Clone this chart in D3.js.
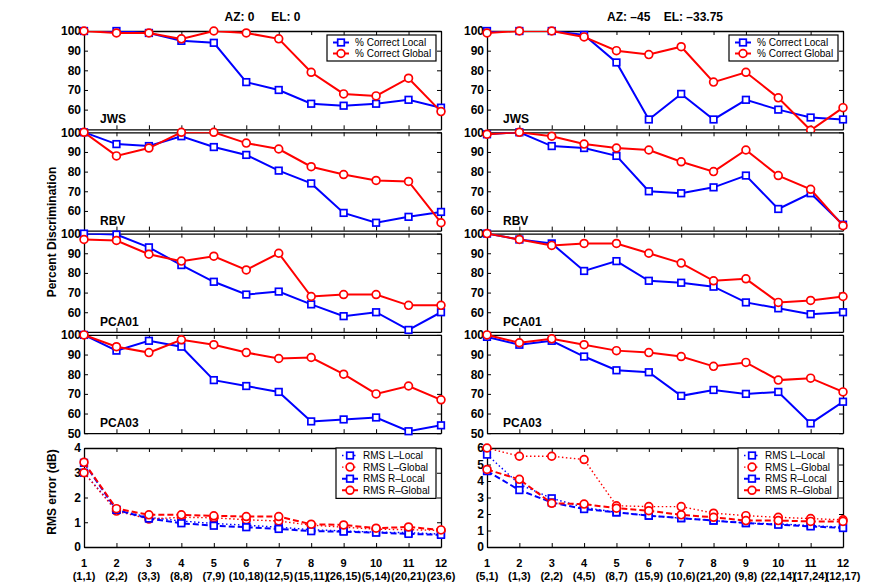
<!DOCTYPE html>
<html lang="en">
<head>
<meta charset="UTF-8">
<title>Percent discrimination and RMS error</title>
<script src="https://cdn.jsdelivr.net/npm/d3@7"></script>
<style>
  body { margin: 0; background: #fff; }
  text { font-family: "Liberation Sans", Arial, Helvetica, sans-serif; }
  .tick text { font-size: 12px; font-weight: bold; fill: #000; }
  .title { font-size: 12px; font-weight: bold; white-space: pre; }
  .legend text { font-size: 10px; }
</style>
</head>
<body>
<svg id="chart" width="896" height="584"></svg>
<script>
// x positions and the pair labels under them
const xVals = [1, 2, 3, 4, 5, 6, 7, 8, 9, 10, 11, 12];
const pairsA = ["(1,1)", "(2,2)", "(3,3)", "(8,8)", "(7,9)", "(10,18)", "(12,5)", "(15,11)", "(26,15)", "(5,14)", "(20,21)", "(23,6)"];
const pairsB = ["(5,1)", "(1,3)", "(2,2)", "(4,5)", "(8,7)", "(15,9)", "(10,6)", "(21,20)", "(9,8)", "(22,14)", "(17,24)", "(12,17)"];
const panelNames = ["JWS", "RBV", "PCA01", "PCA03"];
const titleA = "AZ: 0     EL: 0";
const titleB = "AZ: \u201345    EL: \u201333.75";

// AZ 0, EL 0
const jwsLocalA = [100, 100, 99, 95, 94, 74, 70, 63, 62, 63, 65, 61];
const jwsGlobalA = [100, 99, 99, 96, 100, 99, 96, 79, 68, 67, 76, 59];
const rbvLocalA = [100, 94, 93, 98, 92.5, 88.5, 80.5, 74, 59, 54, 57, 59.5];
const rbvGlobalA = [100, 88, 92, 100, 100, 94.5, 91.5, 82.5, 78.5, 75.5, 75, 54];
const pca01LocalA = [100, 99.5, 93, 84, 75.5, 69, 70.5, 64, 58, 60, 51, 60];
const pca01GlobalA = [97, 96.5, 89.5, 86, 88.5, 81.5, 90, 68, 69, 69, 63.5, 63.5];
const pca03LocalA = [100, 92, 97, 94, 77, 74, 71, 56, 57, 58, 51, 54];
const pca03GlobalA = [100, 94, 91, 97.5, 95, 91, 88, 88.5, 80, 70, 74, 67];

// AZ -45, EL -33.75
const jwsLocalB = [100, 100, 100, 98, 84, 55, 68, 55, 65, 60, 56, 55];
const jwsGlobalB = [99, 100, 100, 97, 90, 88, 92, 74, 79, 66, 49.5, 61];
const rbvLocalB = [99, 100, 93, 92, 88, 70, 69, 72, 78, 61, 69, 53];
const rbvGlobalB = [99, 100, 98, 94, 92, 91, 85, 80, 91, 78, 71, 52.5];
const pca01LocalB = [100, 97, 95, 81, 86, 76, 75, 73, 65, 62, 59, 60];
const pca01GlobalB = [100, 97, 94, 95, 95, 90, 85, 76, 77, 65, 66, 68];
const pca03LocalB = [99, 95, 97, 89, 82, 81, 69, 72, 70, 71, 55, 66];
const pca03GlobalB = [100, 96, 98, 95, 92, 91, 89, 84, 86, 77, 78, 71];

// RMS error (dB)
const rmsLLocalA = [3.0, 1.5, 1.2, 1.05, 0.95, 0.88, 0.8, 0.7, 0.65, 0.6, 0.58, 0.52];
const rmsLGlobalA = [3.0, 1.45, 1.13, 1.2, 1.18, 1.1, 1.05, 0.88, 0.8, 0.72, 0.7, 0.67];
const rmsRLocalA = [3.4, 1.5, 1.15, 0.96, 0.86, 0.8, 0.73, 0.64, 0.62, 0.58, 0.53, 0.49];
const rmsRGlobalA = [3.42, 1.55, 1.3, 1.3, 1.26, 1.23, 1.23, 0.92, 0.89, 0.76, 0.81, 0.69];
const rmsLLocalB = [5.6, 3.8, 2.95, 2.4, 2.1, 1.9, 1.75, 1.6, 1.45, 1.4, 1.3, 1.2];
const rmsLGlobalB = [6.0, 5.5, 5.5, 5.3, 2.5, 2.45, 2.45, 2.05, 1.9, 1.8, 1.72, 1.65];
const rmsRLocalB = [4.6, 3.45, 2.7, 2.3, 2.1, 1.9, 1.75, 1.6, 1.45, 1.35, 1.25, 1.15];
const rmsRGlobalB = [4.7, 4.1, 2.65, 2.6, 2.35, 2.2, 1.95, 1.8, 1.6, 1.6, 1.55, 1.55];

const pctTicks = [60, 70, 80, 90, 100];
const pctTicksLast = [50, 60, 70, 80, 90, 100];
const rmsTicksA = [0, 1, 2, 3, 4];
const rmsTicksB = [0, 1, 2, 3, 4, 5, 6];

const BLUE = "#0000ff", RED = "#ff0000";

const svg = d3.select("#chart");

const columns = [
  { x0: 84, x1: 441, title: titleA, pairs: pairsA,
    local: [jwsLocalA, rbvLocalA, pca01LocalA, pca03LocalA],
    global: [jwsGlobalA, rbvGlobalA, pca01GlobalA, pca03GlobalA],
    rms: [rmsLLocalA, rmsLGlobalA, rmsRLocalA, rmsRGlobalA], rmsMax: 4, rmsTicks: rmsTicksA },
  { x0: 487, x1: 843, title: titleB, pairs: pairsB,
    local: [jwsLocalB, rbvLocalB, pca01LocalB, pca03LocalB],
    global: [jwsGlobalB, rbvGlobalB, pca01GlobalB, pca03GlobalB],
    rms: [rmsLLocalB, rmsLGlobalB, rmsRLocalB, rmsRGlobalB], rmsMax: 6, rmsTicks: rmsTicksB }
];

const rowTops = [31, 132.3, 233.6, 334.9];
const rowH = 98.3;
const rmsTop = 448, rmsBottom = 547;

let clipId = 0;

function frame(g, x, y, yTicks) {
  const [b, t] = y.range();
  g.append("g").attr("transform", `translate(0,${b})`)
    .call(d3.axisBottom(x).tickValues(xVals).tickSize(-4).tickSizeOuter(0).tickFormat(""));
  g.append("g").attr("transform", `translate(0,${t})`)
    .call(d3.axisTop(x).tickValues(xVals).tickSize(-4).tickSizeOuter(0).tickFormat(""));
  g.append("g").attr("transform", `translate(${x.range()[0]},0)`)
    .call(d3.axisLeft(y).tickValues(yTicks).tickSize(-4).tickSizeOuter(0).tickPadding(3).tickFormat(d3.format("d")));
  g.append("g").attr("transform", `translate(${x.range()[1]},0)`)
    .call(d3.axisRight(y).tickValues(yTicks).tickSize(-4).tickSizeOuter(0).tickFormat(""));
  g.selectAll(".domain").attr("stroke", "#000").attr("stroke-width", 1.3);
  g.selectAll(".tick line").attr("stroke", "#000").attr("stroke-width", 1);
}

function series(g, x, y, vals, color, dash, marker, lw, clip) {
  const line = d3.line().x((d, i) => x(xVals[i])).y(d => y(d));
  g.append("path").datum(vals)
    .attr("clip-path", `url(#${clip})`)
    .attr("d", line).attr("fill", "none")
    .attr("stroke", color).attr("stroke-width", lw)
    .attr("stroke-dasharray", dash);
  drawMarkers(g.append("g"), vals.map((d, i) => [x(xVals[i]), y(d)]), color, marker);
}

function drawMarkers(s, pts, color, marker) {
  if (marker === "square") {
    s.selectAll(null).data(pts).enter().append("rect")
      .attr("x", d => d[0] - 3.3).attr("y", d => d[1] - 3.3)
      .attr("width", 6.6).attr("height", 6.6)
      .attr("fill", "#fff").attr("stroke", color).attr("stroke-width", 1.7);
  } else {
    s.selectAll(null).data(pts).enter().append("circle")
      .attr("cx", d => d[0]).attr("cy", d => d[1]).attr("r", 3.9)
      .attr("fill", "#fff").attr("stroke", color).attr("stroke-width", 1.7);
  }
}

function makeClip(x, y) {
  const id = "clip" + (clipId++);
  const [b, t] = y.range();
  svg.append("clipPath").attr("id", id).append("rect")
    .attr("x", x.range()[0]).attr("y", t).attr("width", x.range()[1] - x.range()[0]).attr("height", b - t);
  return id;
}

function legend(g, x0, y0, w, entries) {
  const lg = g.append("g").attr("class", "legend");
  const rowStep = entries.length === 2 ? 11 : 11.6;
  const h = entries.length * rowStep + 4;
  lg.append("rect").attr("x", x0).attr("y", y0).attr("width", w).attr("height", h)
    .attr("fill", "#fff").attr("stroke", "#000").attr("stroke-width", 1.2);
  entries.forEach((e, i) => {
    const cy = y0 + 7.5 + i * rowStep;
    lg.append("line").attr("x1", x0 + 6).attr("x2", x0 + 22).attr("y1", cy).attr("y2", cy)
      .attr("stroke", e.color).attr("stroke-width", e.lw).attr("stroke-dasharray", e.dash);
    drawMarkers(lg, [[x0 + 14, cy]], e.color, e.marker);
    lg.append("text").attr("x", x0 + e.tx).attr("y", cy + 3.6).text(e.label);
  });
}

columns.forEach((col, ci) => {
  const x = d3.scaleLinear().domain([1, 12]).range([col.x0, col.x1]);
  const g = svg.append("g");

  g.append("text").attr("class", "title")
    .attr("x", (col.x0 + col.x1) / 2).attr("y", 20.5).attr("text-anchor", "middle")
    .text(col.title);

  panelNames.forEach((name, ri) => {
    const top = rowTops[ri];
    const y = d3.scaleLinear().domain([50, 100]).range([top + rowH, top]);
    const pg = g.append("g");
    pg.append("rect").attr("x", col.x0).attr("y", top).attr("width", col.x1 - col.x0)
      .attr("height", rowH).attr("fill", "#fff");
    const clip = makeClip(x, y);
    frame(pg, x, y, ri === 3 ? pctTicksLast : pctTicks);
    series(pg, x, y, col.local[ri], BLUE, null, "square", 2, clip);
    series(pg, x, y, col.global[ri], RED, null, "circle", 2, clip);
    pg.append("text").attr("x", col.x0 + 16).attr("y", top + rowH - 6)
      .attr("font-size", 12).attr("font-weight", "bold").text(name);
    if (ri === 0) {
      legend(pg, ci === 0 ? 327 : 729, 35, 109, [
        { label: "% Correct Local", color: BLUE, marker: "square", lw: 2, dash: null, tx: 28 },
        { label: "% Correct Global", color: RED, marker: "circle", lw: 2, dash: null, tx: 28 }
      ]);
    }
  });

  // RMS panel
  const yr = d3.scaleLinear().domain([0, col.rmsMax]).range([rmsBottom, rmsTop]);
  const rg = g.append("g");
  const rclip = makeClip(x, yr);
  frame(rg, x, yr, col.rmsTicks);
  series(rg, x, yr, col.rms[0], BLUE, "1.5,2.5", "square", 1.4, rclip);
  series(rg, x, yr, col.rms[1], RED, "1.5,2.5", "circle", 1.4, rclip);
  series(rg, x, yr, col.rms[2], BLUE, "6,3", "square", 2, rclip);
  series(rg, x, yr, col.rms[3], RED, "6,3", "circle", 2, rclip);
  legend(rg, ci === 0 ? 336 : 738, 448, 100, [
    { label: "RMS L\u2013Local", color: BLUE, marker: "square", lw: 1.4, dash: "1.5,2.5", tx: 27 },
    { label: "RMS L\u2013Global", color: RED, marker: "circle", lw: 1.4, dash: "1.5,2.5", tx: 27 },
    { label: "RMS R\u2013Local", color: BLUE, marker: "square", lw: 2, dash: "4,2", tx: 27 },
    { label: "RMS R\u2013Global", color: RED, marker: "circle", lw: 2, dash: "4,2", tx: 27 }
  ]);

  // two-line x labels under the RMS panel
  const lab = g.append("g").attr("font-size", 11).attr("font-weight", "bold").attr("text-anchor", "middle");
  lab.selectAll(null).data(xVals).enter().append("text")
    .attr("x", d => x(d)).attr("y", 567).text(d => d);
  lab.selectAll(null).data(col.pairs).enter().append("text")
    .attr("x", (d, i) => x(xVals[i])).attr("y", 580).text(d => d);
});

svg.append("text").attr("transform", "translate(56,232) rotate(-90)")
  .attr("text-anchor", "middle").attr("font-size", 12).attr("font-weight", "bold")
  .text("Percent Discrimination");
svg.append("text").attr("transform", "translate(56,492) rotate(-90)")
  .attr("text-anchor", "middle").attr("font-size", 12).attr("font-weight", "bold")
  .text("RMS error (dB)");
</script>
</body>
</html>
